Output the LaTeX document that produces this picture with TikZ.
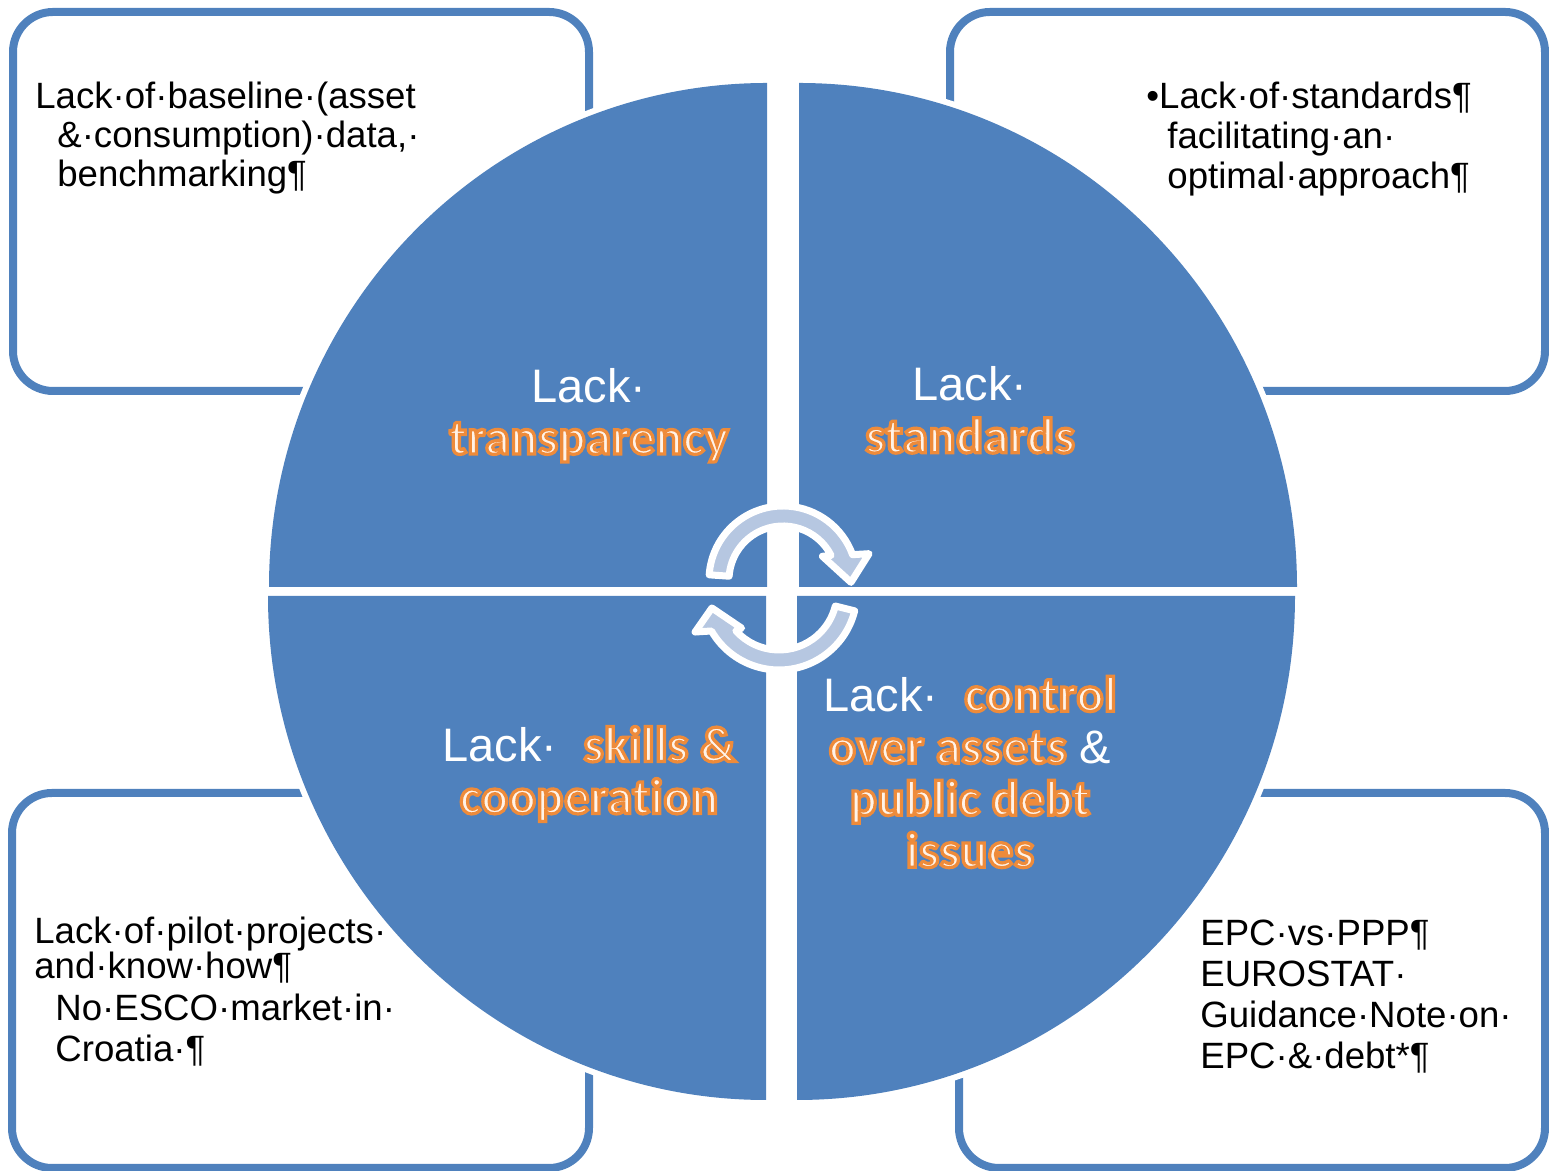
\documentclass[tikz,border=0pt]{standalone}
\usepackage{fontspec}
\setmainfont{Liberation Sans}
\newfontfamily\glowfont[LetterSpace=1.5, Ligatures=NoCommon, BoldFeatures={FakeBold=6.5}]{Carlito}

\definecolor{quadblue}{HTML}{4F81BD}
\definecolor{arrowfill}{HTML}{B6C7E1}
\definecolor{glowedge}{HTML}{EE8B3A}
\definecolor{glowfill}{HTML}{FFF3E8}

\tikzset{
  notebox/.style={draw=quadblue, line width=4pt, rounded corners=20pt},
  quadrant/.style={fill=quadblue},
  halo/.style={draw=white, line width=6pt},
  note/.style={anchor=north west, inner sep=0pt, align=left, font=\fontsize{18.3}{19.5}\selectfont},
  lacklabel/.style={align=center, inner sep=0pt, text=white, font=\fontsize{23.5}{26}\selectfont},
  cyclearrow/.style={fill=arrowfill, draw=white, line width=3.5pt, line join=round}
}
% cream letters with an orange edge
\newcommand{\hot}[1]{{\glowfont\bfseries\fontsize{25}{26}\selectfont\color{glowfill}\special{pdf:code 0.933 0.545 0.227 RG}#1}}

\begin{document}
\begin{tikzpicture}[x=0.5pt, y=0.5pt]
    \useasboundingbox (0,0) rectangle (1549,1171);
    % corner boxes
    \draw[notebox] (13,780) rectangle (589,1159);
    \draw[notebox] (950,780) rectangle (1545,1159);
    \draw[notebox] (12,3) rectangle (589,378);
    \draw[notebox] (959,3) rectangle (1545,378);
    % the four quarters
    \foreach \cx/\cy/\a in {767/584/90, 799/584/0, 766/575/180, 797/575/270}
        \draw[halo] (\cx,\cy) ++(\a:498 and 504) arc[start angle=\a, end angle=\a+90, x radius=498, y radius=504];
    \foreach \cx/\cy/\a in {767/584/90, 799/584/0, 766/575/180, 797/575/270}
        \fill[quadrant] (\cx,\cy) -- ++(\a:498 and 504) arc[start angle=\a, end angle=\a+90, x radius=498, y radius=504] -- cycle;
    % cycle arrows
    \begin{scope}[shift={(783,591)}]
        \draw[cyclearrow] (176:74) arc[start angle=176, end angle=20, radius=74] -- (17:90) -- (-2:68) -- (31:46) -- (27:54) arc[start angle=27, end angle=176, radius=54] -- cycle;
    \end{scope}
    \begin{scope}[shift={(779,579)}]
        \draw[cyclearrow] (-14:78) arc[start angle=-14, end angle=-150, radius=78] -- (-154.5:93) -- (-166.6:69) -- (-136:52) -- (-138:58) arc[start angle=-138, end angle=-14, radius=58] -- cycle;
    \end{scope}
    % labels in the quarters
    \node[lacklabel] (transparency) at (589,756) {Lack·\\\hot{transparency}};
    \node[lacklabel] (standards) at (970,761) {Lack·\\\hot{standards}};
    \node[lacklabel] (skills) at (589,397) {Lack·\ \ \hot{skills \&}\\\hot{cooperation}};
    \node[lacklabel] (control) at (970,399) {Lack·\ \ \hot{control}\\\hot{over assets} \&\\\hot{public debt}\\\hot{issues}};
    % notes in the boxes
    \node[note] (baseline) at (35,1089) {Lack·of·baseline·(asset\\\hspace*{11pt}\&·consumption)·data,·\\\hspace*{11pt}benchmarking¶};
    \node[note, font=\fontsize{18.3}{20}\selectfont] (nostandards) at (1146,1089) {•Lack·of·standards¶\\\hspace*{10.5pt}facilitating·an·\\\hspace*{10.5pt}optimal·approach¶};
    \node[note, font=\fontsize{18.3}{20}\selectfont] (pilot) at (34,254) {Lack·of·pilot·projects·\\[-2.5pt]and·know·how¶\\[1pt]\hspace*{10.5pt}No·ESCO·market·in·\\[0.5pt]\hspace*{10.5pt}Croatia·¶};
    \node[note, font=\fontsize{18.3}{20.5}\selectfont] (eurostat) at (1200,251) {EPC·vs·PPP¶\\EUROSTAT·\\Guidance·Note·on·\\EPC·\&·debt*¶};
\end{tikzpicture}
\end{document}
